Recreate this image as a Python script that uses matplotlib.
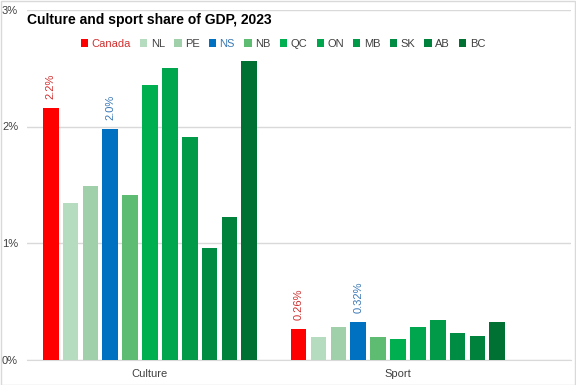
import numpy as np
import matplotlib.pyplot as plt
from matplotlib.patches import Rectangle
from matplotlib import font_manager

groups = ['Culture', 'Sport']
regions = ['Canada', 'NL', 'PE', 'NS', 'NB', 'QC', 'ON', 'MB', 'SK', 'AB', 'BC']
culture = [2.16, 1.34, 1.49, 1.98, 1.41, 2.36, 2.50, 1.91, 0.96, 1.22, 2.56]
sport = [0.26, 0.19, 0.28, 0.32, 0.19, 0.18, 0.28, 0.34, 0.23, 0.20, 0.32]
colors = ['#FF0000', '#B5DCBF', '#A0D0AA', '#0070C0', '#5DBB72', '#00B050',
          '#00A64E', '#009A48', '#008C42', '#00823C', '#007033']
labelled = {'Canada': '#D03030', 'NS': '#3A78B5'}

plt.rcParams['font.family'] = ['Liberation Sans', 'DejaVu Sans']

fig = plt.figure(figsize=(5.76, 3.85), dpi=100)
ax = fig.add_axes([27/576, 1-359.5/385, 544/576, 349.5/385])

values = np.array([culture, sport])
pitch = 0.0801
width = 0.0633
x = np.arange(len(groups))
for i, r in enumerate(regions):
    pos = x + (i - 5) * pitch
    ax.bar(pos, values[:, i], width, color=colors[i], label=r, zorder=3)
    if r in labelled:
        for p, v in zip(pos, values[:, i]):
            txt = '{:.1f}%'.format(v) if v > 1 else '{:.2f}%'.format(v)
            ax.text(p, v + 0.08, txt, rotation=90, ha='center', va='bottom',
                    color=labelled[r], fontsize=8)

ax.set_xlim(-0.496, 1.698)
ax.set_ylim(0, 3)
ax.set_yticks([0, 1, 2, 3])
ax.set_yticklabels(['0%', '1%', '2%', '3%'])
ax.yaxis.grid(True, color='#D9D9D9', linewidth=1, zorder=0)
ax.set_xticks(x)
ax.set_xticklabels(groups)
for s in ['top', 'right', 'left']:
    ax.spines[s].set_visible(False)
ax.spines['bottom'].set_color('#D9D9D9')
ax.tick_params(axis='y', length=0, labelsize=8, labelcolor='#404040', pad=0)
ax.tick_params(axis='x', length=0, labelsize=8, labelcolor='#404040', pad=7)
for t in ax.get_yticklabels():
    t.set_horizontalalignment('left')
    t.set_x(-25/544)

fig.text(27/576, 1-20/385, 'Culture and sport share of GDP, 2023', fontsize=10,
         fontweight='bold', ha='left', va='center', color='#000000')

leg = fig.legend(loc='center', bbox_to_anchor=(283/576, 1-44/385), ncol=11,
                 frameon=False, fontsize=8, handlelength=0.65, handleheight=0.65,
                 handletextpad=0.3, columnspacing=0.85)
for t in leg.get_texts():
    c = labelled.get(t.get_text(), '#404040')
    t.set_color(c)

fig.patches.append(Rectangle((0.001, 0.001), 0.997, 0.997, transform=fig.transFigure,
                             fill=False, edgecolor='#D9D9D9', linewidth=1))
fig.savefig('out.png', dpi=100)
